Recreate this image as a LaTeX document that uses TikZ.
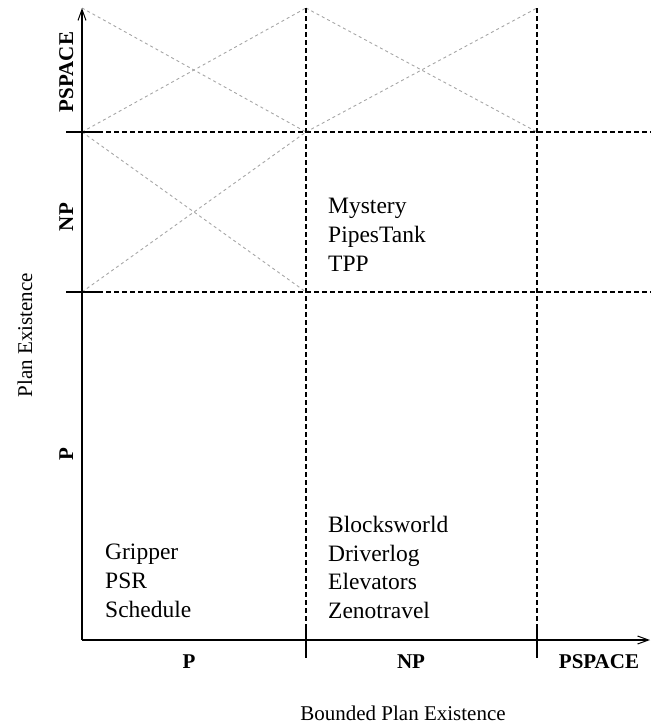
\documentclass[tikz,border=0pt]{standalone}
\usepackage{fontspec}
\setmainfont{Liberation Serif}
\usetikzlibrary{arrows.meta}
\begin{document}
\begin{tikzpicture}[x=1pt,y=-1pt,
  axis/.style={line width=1.5pt,-{Straight Barb[length=11pt,width=8pt,line width=1pt]}},
  gridline/.style={line width=1.3pt,dash pattern=on 5pt off 3pt},
  tickmark/.style={line width=1.3pt},
  cross/.style={gray!70,line width=0.9pt,dash pattern=on 3pt off 3pt},
  axlabel/.style={font=\fontsize{21}{25}\selectfont\bfseries,inner sep=0pt},
  axtitle/.style={font=\fontsize{21}{25}\selectfont,inner sep=0pt},
  item/.style={font=\fontsize{23.5}{29}\selectfont,inner sep=0pt,anchor=base west}]
\useasboundingbox (0,0) rectangle (651,724);

% grid corners
\coordinate (o) at (82,640);
\coordinate (ytop) at (82,8);
\coordinate (xend) at (650,640);
\coordinate (h1l) at (66,292);  \coordinate (h1r) at (651,292);
\coordinate (h2l) at (66,132);  \coordinate (h2r) at (651,132);
\coordinate (v1t) at (306,8);   \coordinate (v1b) at (306,658);
\coordinate (v2t) at (537,8);   \coordinate (v2b) at (537,658);

% crossed-out cells
\coordinate (a1) at (82,8);   \coordinate (a2) at (306,132);
\coordinate (a3) at (82,132); \coordinate (a4) at (306,8);
\coordinate (b1) at (306,8);  \coordinate (b2) at (537,132);
\coordinate (b3) at (306,132);\coordinate (b4) at (537,8);
\coordinate (c1) at (82,132); \coordinate (c2) at (306,292);
\coordinate (c3) at (82,292); \coordinate (c4) at (306,132);
\draw[cross] (a1) -- (a2) (a3) -- (a4);
\draw[cross] (b1) -- (b2) (b3) -- (b4);
\draw[cross] (c1) -- (c2) (c3) -- (c4);

% class boundaries
\draw[gridline] (h1l) -- (h1r);
\draw[gridline] (h2l) -- (h2r);
\draw[gridline] (v1t) -- (v1b);
\draw[gridline] (v2t) -- (v2b);

% solid ticks at the axes
\draw[tickmark] (h1l) -- (103,292);
\draw[tickmark] (h2l) -- (103,132);
\draw[tickmark] (306,626) -- (v1b);
\draw[tickmark] (537,626) -- (v2b);

% axes
\draw[axis] (o) -- (ytop);
\draw[axis] (o) -- (xend);

% axis labels
\node[axlabel,rotate=90,anchor=base] (yps) at (73,72) {PSPACE};
\node[axlabel,rotate=90,anchor=base] (ynp) at (73,217) {NP};
\node[axlabel,rotate=90,anchor=base] (yp) at (73,454) {P};
\node[axlabel,anchor=base] (xp) at (189,668) {P};
\node[axlabel,anchor=base] (xnp) at (411,668) {NP};
\node[axlabel,anchor=base] (xps) at (599,668) {PSPACE};
\node[axtitle,rotate=90,anchor=base] (ytitle) at (32,335) {Plan Existence};
\node[axtitle,anchor=base] (xtitle) at (403,720) {Bounded Plan Existence};

% domains
\node[item] (mys) at (328,213) {Mystery};
\node[item] (pip) at (328,242) {PipesTank};
\node[item] (tpp) at (328,271) {TPP};
\node[item] (gri) at (105,559) {Gripper};
\node[item] (psr) at (105,588) {PSR};
\node[item] (sch) at (105,617) {Schedule};
\node[item] (blo) at (328,532) {Blocksworld};
\node[item] (dri) at (328,561) {Driverlog};
\node[item] (ele) at (328,589) {Elevators};
\node[item] (zen) at (328,618) {Zenotravel};
\end{tikzpicture}
\end{document}
